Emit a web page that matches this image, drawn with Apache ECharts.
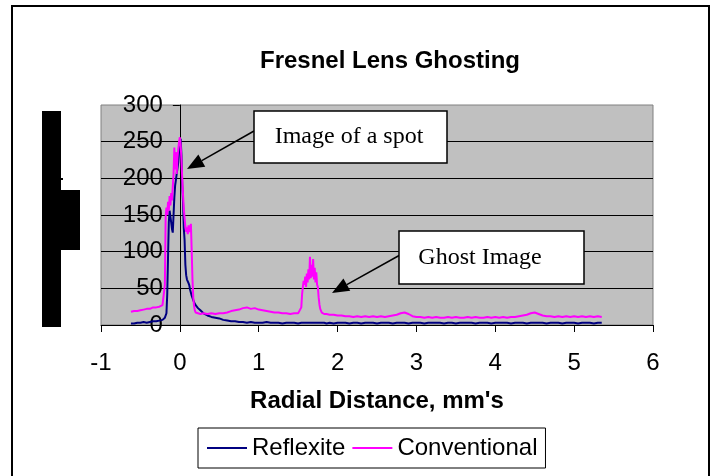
<!DOCTYPE html>
<html>
<head>
<meta charset="utf-8">
<script src="https://cdn.jsdelivr.net/npm/echarts@6.0.0/dist/echarts.min.js"></script>
<style>
  html, body { margin: 0; padding: 0; background: #fff; }
  #chart { width: 714px; height: 476px; }
</style>
</head>
<body>
<div id="chart"></div>
<script>
// radial distance (mm) shared by both traces
const radialDistance = [
  -0.62, -0.58, -0.54, -0.50, -0.46, -0.42, -0.38, -0.34, -0.30, -0.26, -0.22, -0.20,
  -0.19, -0.18, -0.17, -0.16, -0.15, -0.14, -0.13, -0.12, -0.11, -0.10,
  -0.09, -0.08, -0.07, -0.06, -0.05, -0.04, -0.03, -0.02, -0.01, 0.00,
  0.01, 0.02, 0.03, 0.04, 0.05, 0.06, 0.07, 0.08, 0.09, 0.10,
  0.11, 0.12, 0.13, 0.14, 0.15, 0.16, 0.17, 0.18, 0.19, 0.20,
  0.23, 0.26, 0.30, 0.35, 0.40, 0.45, 0.50, 0.55, 0.60, 0.65, 0.70, 0.75, 0.80,
  0.85, 0.90, 0.95, 1.00, 1.05, 1.10, 1.15, 1.20, 1.25, 1.30, 1.35, 1.40, 1.45, 1.50,
  1.52, 1.54, 1.55, 1.56, 1.57, 1.58, 1.59, 1.60, 1.61, 1.62, 1.63, 1.64, 1.65,
  1.66, 1.67, 1.68, 1.69, 1.70, 1.71, 1.72, 1.73, 1.74, 1.75, 1.76, 1.77, 1.78,
  1.80, 1.83, 1.86,
  1.90, 1.95, 2.00, 2.05, 2.10, 2.15, 2.20, 2.25, 2.30, 2.35,
  2.40, 2.45, 2.50, 2.55, 2.60, 2.65, 2.70, 2.75, 2.80, 2.85,
  2.90, 2.95, 3.00, 3.05, 3.10, 3.15, 3.20, 3.25, 3.30, 3.35,
  3.40, 3.45, 3.50, 3.55, 3.60, 3.65, 3.70, 3.75, 3.80, 3.85,
  3.90, 3.95, 4.00, 4.05, 4.10, 4.15, 4.20, 4.25, 4.30, 4.35,
  4.40, 4.45, 4.50, 4.55, 4.60, 4.65, 4.70, 4.75, 4.80, 4.85,
  4.90, 4.95, 5.00, 5.05, 5.10, 5.15, 5.20, 5.25, 5.30, 5.35
];

const reflexite = [
  2, 2, 3, 3, 4, 3, 4, 5, 5, 6, 7, 8,
  10, 12, 16, 42, 92, 140, 156, 148, 140, 131,
  126, 150, 174, 190, 198, 206, 214, 222, 236, 246,
  254, 232, 192, 168, 132, 116, 82, 68, 62, 60,
  57, 54, 48, 44, 40, 37, 34, 31, 29, 27,
  23, 20, 16, 13, 11, 10, 9, 7, 6, 5, 5, 4, 4,
  3, 4, 3, 3, 3, 4, 3, 3, 3, 2, 3, 3, 3, 2,
  3, 3, 2, 3, 3, 3, 2, 3, 3, 3, 3, 2, 3,
  3, 3, 2, 3, 3, 3, 3, 2, 3, 3, 3, 2, 3,
  3, 3, 2,
  3, 2, 3, 3, 3, 2, 3, 3, 2, 3,
  3, 3, 2, 3, 3, 3, 2, 3, 3, 3,
  2, 3, 3, 3, 2, 3, 3, 3, 3, 2,
  3, 3, 2, 3, 3, 3, 3, 2, 3, 3,
  3, 2, 3, 3, 3, 3, 2, 3, 3, 3,
  2, 3, 3, 3, 3, 2, 3, 3, 3, 2,
  3, 3, 3, 2, 3, 3, 3, 2, 3, 3
];

const conventional = [
  18, 19, 19, 20, 21, 22, 22, 24, 24, 25, 27, 28,
  55, 148, 160, 150, 168, 156, 176, 163, 180, 170,
  188, 205, 242, 212, 236, 206, 228, 240, 250, 256,
  246, 226, 200, 178, 158, 146, 134, 127, 133, 124,
  136, 127, 131, 138, 102, 62, 38, 26, 20, 17,
  16, 15, 16, 15, 16, 15, 16, 16, 17, 19, 20, 21, 23,
  24, 22, 23, 21, 20, 19, 18, 17, 17, 16, 16, 15, 16, 16,
  17, 24, 42, 52, 60, 55, 66, 52, 70, 58, 76, 62, 93,
  64, 82, 66, 90, 62, 78, 58, 72, 55, 52, 38, 28, 22,
  17, 15, 15,
  14, 14, 13, 13, 12, 12, 11, 12, 11, 12,
  11, 12, 11, 12, 11, 12, 13, 14, 16, 17,
  15, 12, 11, 11, 10, 11, 10, 11, 10, 10,
  11, 10, 11, 10, 10, 11, 10, 11, 10, 10,
  11, 10, 11, 10, 11, 10, 11, 11, 12, 13,
  14, 16, 17, 15, 13, 12, 12, 11, 12, 11,
  12, 11, 12, 11, 12, 11, 12, 11, 12, 11
];

const seriesNames = ['Reflexite', 'Conventional'];
const xTicks = [-1, 0, 1, 2, 3, 4, 5, 6];
const yTicks = [0, 50, 100, 150, 200, 250, 300];

const sans = '"Liberation Sans", Arial, sans-serif';
const serif = '"Liberation Serif", "Times New Roman", serif';

function pairs(ys) {
  return radialDistance.map((x, i) => [x, ys[i]]);
}

// callout arrow: line plus filled head at (x2, y2)
function arrow(x1, y1, x2, y2) {
  const dx = x2 - x1, dy = y2 - y1;
  const len = Math.sqrt(dx * dx + dy * dy);
  const ux = dx / len, uy = dy / len;
  const hl = 17, hw = 7;
  const bx = x2 - ux * hl, by = y2 - uy * hl;
  return [
    { type: 'line', shape: { x1: x1, y1: y1, x2: bx, y2: by },
      style: { stroke: '#000', lineWidth: 1.5 } },
    { type: 'polygon',
      shape: { points: [[x2, y2], [bx - uy * hw, by + ux * hw], [bx + uy * hw, by - ux * hw]] },
      style: { fill: '#000' } }
  ];
}

function callout(x, y, w, h, text, tx) {
  return [
    { type: 'rect', shape: { x: x, y: y, width: w, height: h },
      style: { fill: '#fff', stroke: '#000', lineWidth: 1.5 } },
    { type: 'text', x: tx, y: y + h / 2,
      style: { text: text, font: '24px ' + serif, fill: '#000', textAlign: 'center', textVerticalAlign: 'middle' } }
  ];
}

const chart = echarts.init(document.getElementById('chart'));

// plot runs from x=-1 at 101px to x=6 at 653px, so x=0 sits 79px in
const gridLeft = 101, gridRight = 61;
const zeroOffset = (0 - xTicks[0]) / (xTicks[xTicks.length - 1] - xTicks[0]) * (714 - gridLeft - gridRight);

chart.setOption({
  backgroundColor: '#fff',
  animation: false,
  title: {
    text: 'Fresnel Lens Ghosting',
    left: 385,
    top: 44,
    textAlign: 'center',
    textStyle: { fontFamily: sans, fontSize: 24, fontWeight: 'bold', color: '#000' }
  },
  legend: {
    data: seriesNames,
    left: 198,
    top: 428,
    orient: 'horizontal',
    padding: [8, 8, 8, 9],
    borderColor: '#000',
    borderWidth: 1,
    icon: 'rect',
    itemWidth: 40,
    itemHeight: 2,
    itemGap: 7,
    textStyle: { fontFamily: sans, fontSize: 24, color: '#000' }
  },
  grid: {
    left: gridLeft,
    right: gridRight,
    top: 105,
    bottom: 151,
    outerBoundsMode: 'none',
    show: true,
    backgroundColor: '#C0C0C0',
    borderColor: '#808080',
    borderWidth: 1
  },
  xAxis: {
    type: 'value',
    min: xTicks[0],
    max: xTicks[xTicks.length - 1],
    interval: 1,
    name: "Radial Distance, mm's",
    nameLocation: 'middle',
    nameGap: 64,
    nameTextStyle: { fontFamily: sans, fontSize: 24, fontWeight: 'bold', color: '#000' },
    axisLine: { show: true, onZero: false, lineStyle: { color: '#000', width: 1 } },
    axisTick: { show: true, inside: false, length: 7, lineStyle: { color: '#000' } },
    axisLabel: { fontFamily: sans, fontSize: 24, color: '#000', margin: 26 },
    splitLine: { show: false }
  },
  yAxis: {
    type: 'value',
    position: 'left',
    offset: -zeroOffset,
    min: yTicks[0],
    max: yTicks[yTicks.length - 1],
    interval: 50,
    axisLine: { show: true, onZero: false, lineStyle: { color: '#000', width: 1 } },
    axisTick: { show: true, inside: false, length: 7, lineStyle: { color: '#000' } },
    axisLabel: { fontFamily: sans, fontSize: 24, color: '#000', margin: 17 },
    splitLine: { show: true, showMinLine: false, showMaxLine: false, lineStyle: { color: '#000', width: 1 } }
  },
  series: [
    {
      name: seriesNames[0],
      type: 'line',
      data: pairs(reflexite),
      symbol: 'none',
      showSymbol: false,
      color: '#000080',
      lineStyle: { color: '#000080', width: 2 },
      z: 2
    },
    {
      name: seriesNames[1],
      type: 'line',
      data: pairs(conventional),
      symbol: 'none',
      showSymbol: false,
      color: '#FF00FF',
      lineStyle: { color: '#FF00FF', width: 2 },
      z: 3
    }
  ],
  graphic: [
    // outer chart frame
    { type: 'rect', shape: { x: 12, y: 6, width: 697, height: 490 },
      style: { fill: 'none', stroke: '#000', lineWidth: 2 } },
    // y-axis title came out as solid blocks in the original
    { type: 'rect', shape: { x: 42, y: 111, width: 19, height: 216 }, style: { fill: '#000' } },
    { type: 'rect', shape: { x: 61, y: 190, width: 19, height: 60 }, style: { fill: '#000' } },
    { type: 'rect', shape: { x: 61, y: 178, width: 2, height: 2 }, style: { fill: '#000' } },
    ...arrow(254, 131, 187, 169),
    ...callout(254, 111, 193, 52, 'Image of a spot', 349),
    ...arrow(400, 255, 332, 293),
    ...callout(399, 231, 185, 53, 'Ghost Image', 480)
  ].map(el => Object.assign({ z: 100 }, el))
});
</script>
</body>
</html>
